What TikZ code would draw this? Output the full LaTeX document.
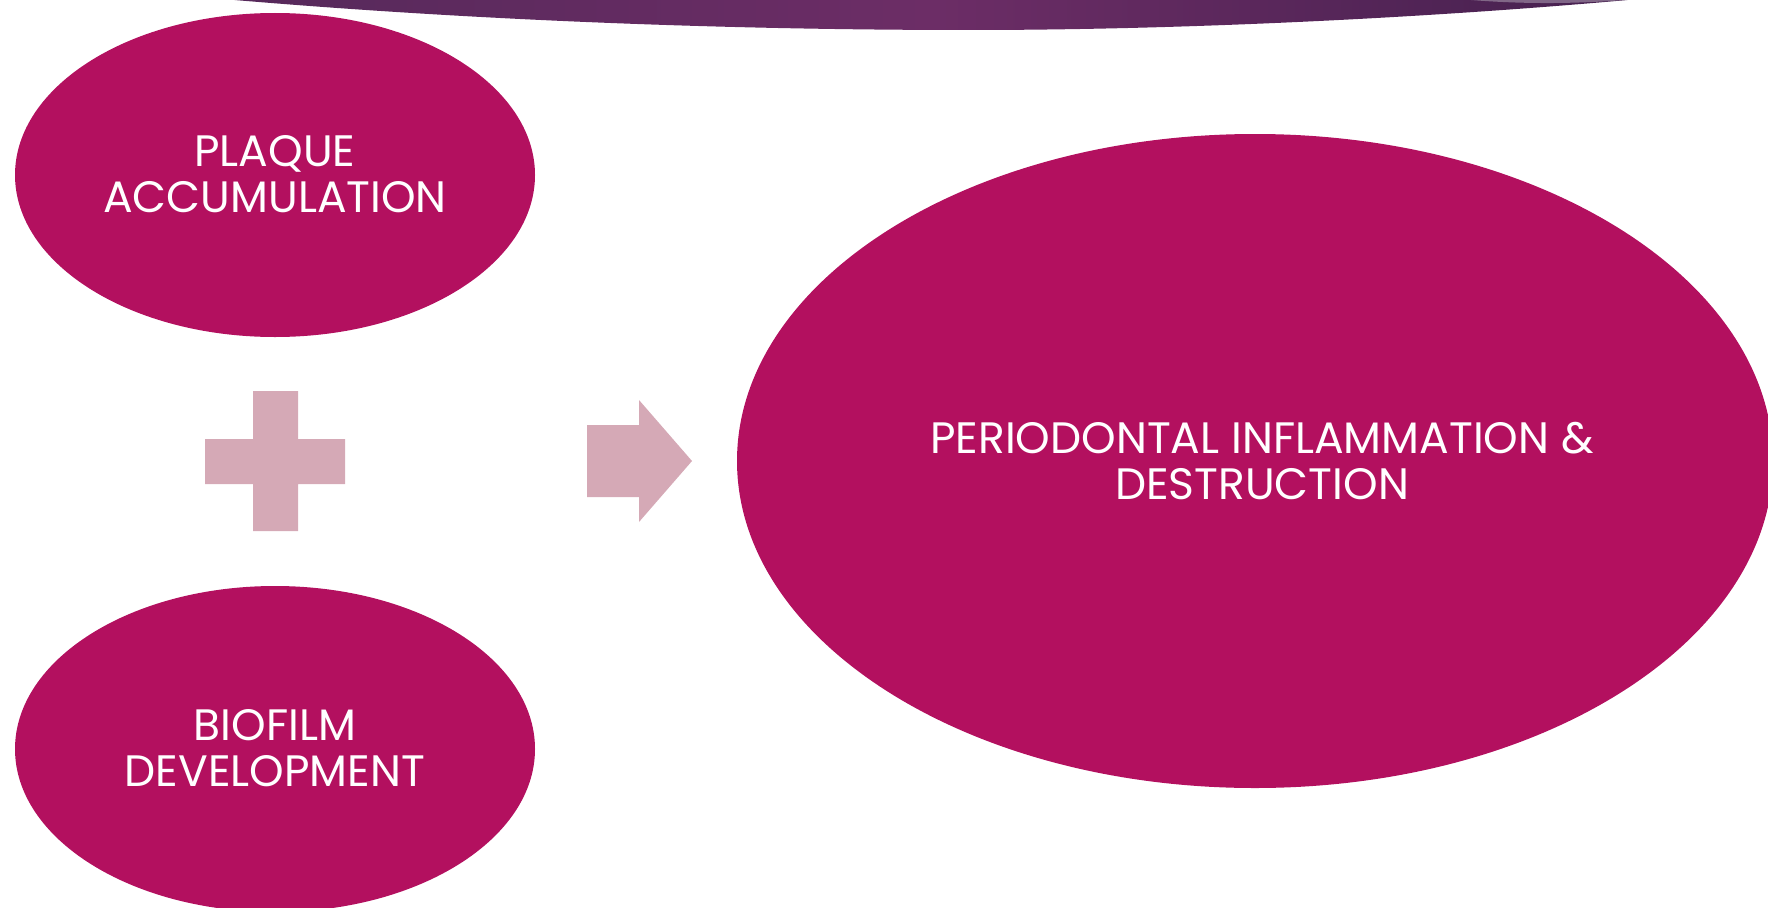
\documentclass[tikz,border=0pt]{standalone}
\usepackage{fontspec}
\setmainfont{Poppins}
\usetikzlibrary{shapes.geometric}
\definecolor{mag}{HTML}{B3105F}
\definecolor{pale}{HTML}{D5A9B6}
\definecolor{purpL}{HTML}{55295A}
\definecolor{purpM}{HTML}{6C2D66}
\definecolor{purpR}{HTML}{44204E}
\tikzset{
  blob/.style={ellipse, fill=mag, draw=none, inner sep=0pt},
  blobtext/.style={text=white, align=center, font=\fontsize{44}{46}\selectfont},
}
\begin{document}
\begin{tikzpicture}[x=1pt,y=-1pt]
\useasboundingbox (0,0) rectangle (1768,907);
\begin{scope}
\clip (0,0) rectangle (1768,907);
% top band
\shade[left color=purpL, right color=purpR, middle color=purpM]
  (200,-3) .. controls (480,22) and (750,30) .. (970,30)
  .. controls (1200,30) and (1460,16) .. (1660,-3) -- cycle;
\fill[white!45!purpR, opacity=0.7] (1440,-3) .. controls (1520,6) and (1590,4) .. (1660,-3) -- cycle;
% ellipses
\node[blob, minimum width=520pt, minimum height=324pt] (plaque) at (275,175) {};
\node[blob, minimum width=520pt, minimum height=326pt] (biofilm) at (275,749) {};
\node[blob, minimum width=1036pt, minimum height=654pt] (perio) at (1255,461) {};
\end{scope}
\node[blobtext] (tplaque) at (275,174) {PLAQUE\\ACCUMULATION};
\node[blobtext] (tbio) at (275,748) {BIOFILM\\DEVELOPMENT};
\node[blobtext] (tperio) at (1262,461) {PERIODONTAL INFLAMMATION \&\\DESTRUCTION};
% plus
\fill[pale] (253,391) -- (298,391) -- (298,439) -- (345,439) -- (345,484) -- (298,484)
  -- (298,531) -- (253,531) -- (253,484) -- (205,484) -- (205,439) -- (253,439) -- cycle;
% arrow
\fill[pale] (587,425) -- (639,425) -- (639,400) -- (692,461) -- (639,522) -- (639,497) -- (587,497) -- cycle;
\end{tikzpicture}
\end{document}
